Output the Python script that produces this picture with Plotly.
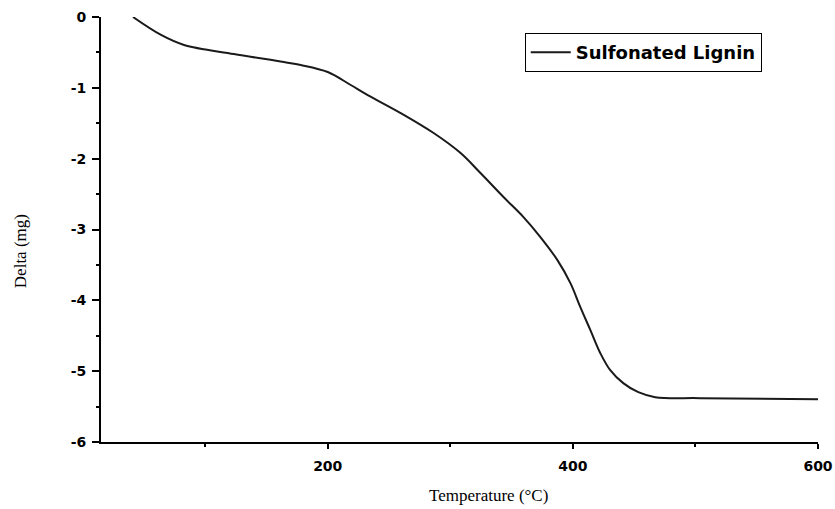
import plotly.graph_objects as go

temperature = [41.1, 64, 82.7, 123.4, 164.2, 178, 200, 218.7, 232.6, 259.5, 286.4, 308.4,
               324.6, 343.4, 359.7, 373.5, 387.4, 398, 406.1, 414.3, 422.4, 430.5,
               441.1, 453.4, 467.2, 503.9, 600]
delta = [0, -0.254, -0.395, -0.523, -0.636, -0.678, -0.777, -0.960, -1.102, -1.356, -1.638,
         -1.921, -2.203, -2.542, -2.825, -3.107, -3.432, -3.757, -4.096, -4.421, -4.746,
         -4.986, -5.169, -5.297, -5.367, -5.381, -5.395]
series_name = "Sulfonated Lignin"
x_ticks = [200, 400, 600]
y_ticks = [0, -1, -2, -3, -4, -5, -6]
y_ticktext = ["0", "-1", "-2", "-3", "-4", "-5", "-6"]

fig = go.Figure()
fig.add_trace(go.Scatter(x=temperature, y=delta, mode="lines", name=series_name,
                         line=dict(color="#1a1a1a", width=2, shape="spline", smoothing=1.0)))

tickfont = dict(family="DejaVu Sans", size=14, color="black", weight="bold")
fig.update_layout(
    width=835, height=509,
    margin=dict(l=101, r=17, t=17, b=67),
    plot_bgcolor="white", paper_bgcolor="white",
    showlegend=True,
    legend=dict(x=0.591, y=0.962, xanchor="left", yanchor="top",
                bordercolor="black", borderwidth=1, bgcolor="white",
                font=dict(family="DejaVu Sans", size=18, color="black", weight="bold"),
                itemwidth=40, tracegroupgap=0),
    xaxis=dict(range=[15, 600], tickvals=x_ticks, ticks="outside", ticklen=5, tickwidth=2,
               tickcolor="black", showline=True, linecolor="black", linewidth=2,
               showgrid=False, zeroline=False, tickfont=tickfont, automargin=False,
               ticklabelstandoff=5,
               minor=dict(tickvals=[100, 300, 500], ticks="outside", ticklen=3, tickwidth=1.5, tickcolor="black")),
    yaxis=dict(range=[-6, 0], tickvals=y_ticks, ticktext=y_ticktext, ticks="outside", ticklen=7,
               tickwidth=2, tickcolor="black", showline=True, linecolor="black", linewidth=2,
               showgrid=False, zeroline=False, tickfont=tickfont, ticklabelstandoff=3,
               automargin=False,
               minor=dict(tickvals=[-0.5, -1.5, -2.5, -3.5, -4.5, -5.5], ticks="outside",
                          ticklen=3, tickwidth=1.5, tickcolor="black")),
)

fig.add_annotation(text="Temperature (°C)", xref="paper", yref="paper", x=0.541, y=-0.125,
                   xanchor="center", yanchor="middle", showarrow=False,
                   font=dict(family="Liberation Serif, Times New Roman", size=17, color="black"))
fig.add_annotation(text="Delta (mg)", xref="paper", yref="paper", x=-0.113, y=0.449,
                   xanchor="center", yanchor="middle", showarrow=False, textangle=-90,
                   font=dict(family="Liberation Serif, Times New Roman", size=17, color="black"))

fig.write_html("out.html")
